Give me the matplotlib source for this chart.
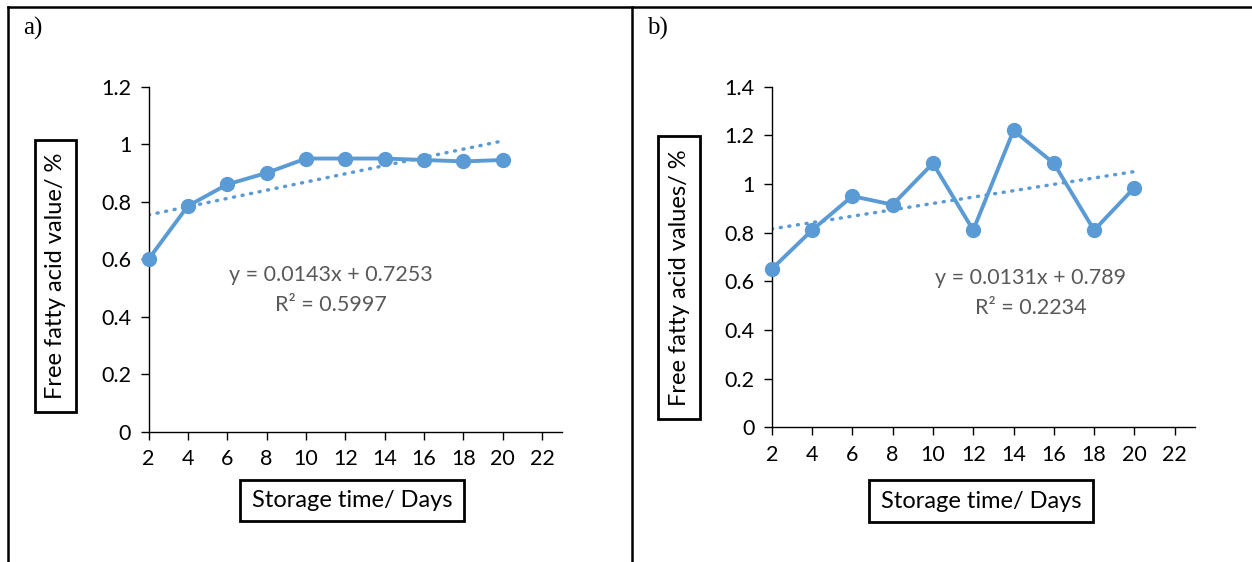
import numpy as np
import matplotlib
matplotlib.use('Agg')
import matplotlib.pyplot as plt
from matplotlib.lines import Line2D

# storage time (days) and measured free fatty acid values
days = [2, 4, 6, 8, 10, 12, 14, 16, 18, 20]
ffa_a = [0.60, 0.785, 0.86, 0.90, 0.95, 0.95, 0.95, 0.945, 0.94, 0.945]
ffa_b = [0.65, 0.81, 0.95, 0.915, 1.085, 0.81, 1.22, 1.085, 0.81, 0.985]

# linear trendlines as printed on the chart
slope_a, icpt_a, r2_a = 0.0143, 0.7253, 0.5997
slope_b, icpt_b, r2_b = 0.0131, 0.789, 0.2234

xticks = [2, 4, 6, 8, 10, 12, 14, 16, 18, 20, 22]
yticks_a = [0, 0.2, 0.4, 0.6, 0.8, 1.0, 1.2]
yticks_b = [0, 0.2, 0.4, 0.6, 0.8, 1.0, 1.2, 1.4]

BLUE = '#5B9BD5'
GREY = '#595959'
W, H = 1252, 562
SANS = ['Lato', 'DejaVu Sans']
SERIF = ['Liberation Serif', 'DejaVu Serif']

fig = plt.figure(figsize=(W / 100, H / 100), dpi=100)


def px_axes(x0, x1, ytop, ybot):
    return fig.add_axes([x0 / W, 1 - ybot / H, (x1 - x0) / W, (ybot - ytop) / H])


def fmt(v):
    return '0' if v == 0 else ('%g' % v)


def draw_panel(ax, y, slope, icpt, r2, yticks, ylim, ylabel, eq_xy, lab_box, xlab_box):
    x = np.array(days)
    ax.plot(x, y, color=BLUE, lw=2.8, marker='o', ms=10, clip_on=False, zorder=3)
    xt = np.array([days[0], days[-1]])
    ax.plot(xt, icpt + slope * xt, color=BLUE, lw=2.5, ls=(0, (0.3, 2.2)),
            dash_capstyle='round', zorder=2)
    ax.set_xlim(2, 23)
    ax.set_ylim(*ylim)
    ax.set_xticks(xticks)
    ax.set_yticks(yticks)
    ax.set_yticklabels([fmt(v) for v in yticks])
    for s in ['top', 'right']:
        ax.spines[s].set_visible(False)
    for s in ['left', 'bottom']:
        ax.spines[s].set_linewidth(1.0)
        ax.spines[s].set_color('black')
    ax.tick_params(direction='out', length=5.5, width=1.0, labelsize=15.5, pad=7)
    for t in ax.get_xticklabels() + ax.get_yticklabels():
        t.set_fontfamily(SANS)
    ax.patch.set_alpha(0)

    # trendline equation
    fig.text(eq_xy[0] / W, 1 - eq_xy[1] / H, 'y = %sx + %s' % (slope, icpt),
             ha='center', va='center', fontsize=15.5, color=GREY, family=SANS)
    fig.text(eq_xy[0] / W, 1 - (eq_xy[1] + 30) / H, 'R² = %s' % r2,
             ha='center', va='center', fontsize=15.5, color=GREY, family=SANS)

    # boxed axis titles
    bx0, bx1, by0, by1 = lab_box
    fig.patches.append(plt.Rectangle((bx0 / W, 1 - by1 / H), (bx1 - bx0) / W, (by1 - by0) / H,
                                     transform=fig.transFigure, fill=False, lw=2, ec='black'))
    fig.text((bx0 + bx1) / 2 / W + 1 / W, 1 - (by0 + by1) / 2 / H, ylabel, rotation=90,
             ha='center', va='center', fontsize=17, family=SANS)
    bx0, bx1, by0, by1 = xlab_box
    fig.patches.append(plt.Rectangle((bx0 / W, 1 - by1 / H), (bx1 - bx0) / W, (by1 - by0) / H,
                                     transform=fig.transFigure, fill=False, lw=2, ec='black'))
    fig.text((bx0 + bx1) / 2 / W, 1 - (by0 + by1) / 2 / H, 'Storage time/ Days',
             ha='center', va='center', fontsize=17, family=SANS)


ax_a = px_axes(148.6, 561.7, 86.7, 431.5)
draw_panel(ax_a, ffa_a, slope_a, icpt_a, r2_a, yticks_a, (0, 1.2),
           'Free fatty acid value/ %', (331, 275),
           (34.5, 75.5, 140, 411.5), (240, 464, 480, 521))

ax_b = px_axes(771.7, 1194.9, 86.7, 427.2)
draw_panel(ax_b, ffa_b, slope_b, icpt_b, r2_b, yticks_b, (0, 1.4),
           'Free fatty acid values/ %', (1031, 278),
           (658, 699.5, 136, 418.6), (869, 1093, 480, 522))

fig.text(33 / W, 1 - 28 / H, 'a)', ha='center', va='center', fontsize=18, family=SERIF)
fig.text(657 / W, 1 - 28 / H, 'b)', ha='center', va='center', fontsize=18, family=SERIF)

# outer frame: top, left and divider
frame = dict(transform=fig.transFigure, color='black', lw=1.8)
fig.lines.append(Line2D([7.5 / W, 1], [1 - 6.5 / H, 1 - 6.5 / H], **frame))
fig.lines.append(Line2D([7.5 / W, 7.5 / W], [0, 1 - 6.5 / H], **frame))
fig.lines.append(Line2D([631.5 / W, 631.5 / W], [0, 1 - 6.5 / H], **frame))

fig.savefig('out.png', dpi=100)
